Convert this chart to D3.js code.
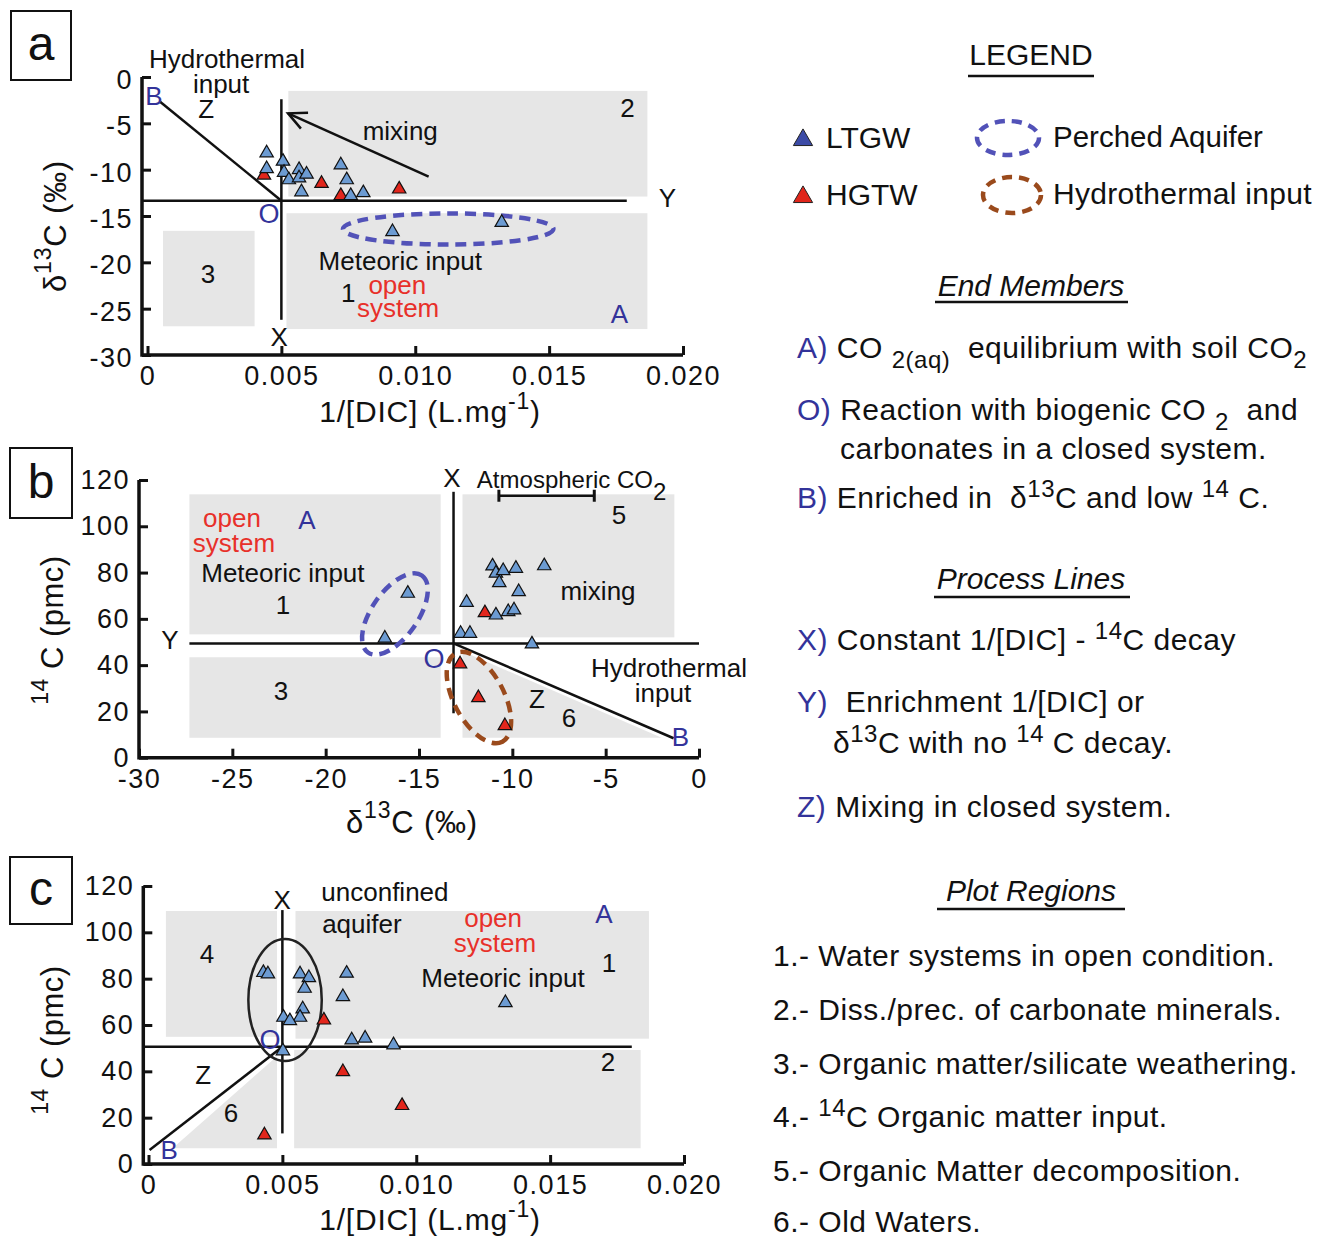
<!DOCTYPE html>
<html><head><meta charset="utf-8">
<script src="https://cdn.jsdelivr.net/npm/d3@7"></script>
<style>
body{margin:0;background:#fff}
svg text{font-family:"Liberation Sans",Arial,Helvetica,sans-serif;white-space:pre;fill:#111}
</style></head><body>
<svg id="chart" width="1325" height="1237"></svg>
<script>
// ================= DATA =================
const dicTicks = [0, 0.005, 0.010, 0.015, 0.020];
const dicTickLabels = ["0", "0.005", "0.010", "0.015", "0.020"];
const d13cTicksA = [0, -5, -10, -15, -20, -25, -30];
const c14Ticks = [0, 20, 40, 60, 80, 100, 120];
const d13cTicksB = [-30, -25, -20, -15, -10, -5, 0];

// Panel a: [1/[DIC], δ13C]
const aLTGW = [[0.00445,-8.2],[0.00445,-9.9],[0.00506,-9.1],[0.0051,-10.3],[0.00528,-11.1],[0.00566,-10.0],[0.00566,-10.9],[0.00594,-10.5],[0.00575,-12.4],[0.00722,-9.5],[0.00744,-11.1],[0.00759,-12.8],[0.00806,-12.5],[0.00915,-16.7],[0.01323,-15.7]];
const aHGTW = [[0.00435,-10.6],[0.0065,-11.5],[0.00722,-12.8],[0.0094,-12.1]];
// Panel b: [δ13C, 14C]
const bLTGW = [[-11.06,82.8],[-10.88,79.7],[-10.49,80.8],[-9.81,81.8],[-10.70,75.6],[-8.29,82.9],[-9.66,71.7],[-12.45,67.1],[-10.88,61.6],[-10.22,63.1],[-9.91,63.8],[-12.77,53.7],[-12.27,53.7],[-8.95,49.1],[-15.60,71.0],[-16.83,51.6]];
const bHGTW = [[-11.47,62.6],[-12.80,40.5],[-11.82,25.9],[-10.40,13.8]];
// Panel c: [1/[DIC], 14C]
const cLTGW = [[0.00429,82.6],[0.00446,82.0],[0.00566,82.0],[0.00599,80.4],[0.00583,75.8],[0.00740,82.3],[0.00726,72.2],[0.00576,66.9],[0.00566,63.3],[0.00504,63.3],[0.00528,61.8],[0.00759,53.5],[0.00809,54.3],[0.00915,51.4],[0.00502,48.8],[0.01333,69.6]];
const cHGTW = [[0.00655,62.1],[0.00726,39.8],[0.00947,25.2],[0.00433,12.5]];

// Plot regions (data units): [x0, x1, y0, y1]
const aBoxes = [[0.00526,0.01867,-1.5,-12.9],[0.00519,0.01867,-14.7,-27.2],[0.00058,0.0040,-16.6,-26.9]];
const bBoxes = [[-27.3,-13.84,113.8,53.3],[-27.3,-13.84,43.4,8.6],[-12.67,-1.32,113.8,52.0]];
const bRegion6 = [[-12.67,46],[-12.67,8.6],[-2.0,8.6]];
const cBoxes = [[0.00065,0.0048,109.2,54.9],[0.00549,0.01869,109.2,54.1],[0.00544,0.01838,49.2,6.8]];
const cRegion6 = [[0.0048,46.5],[0.0048,6.8],[0.0009,6.8]];

// Process lines (data units)
const aLineX = [[0.005,-2.4],[0.005,-26.2]];
const aLineY = [[-0.0002,-13.35],[0.0179,-13.35]];
const aLineZ = [[0.00047,-2.67],[0.005,-13.35]];
const aMixArrow = [[0.0105,-10.76],[0.00525,-3.92]];
const bLineX = [[-13.15,114.9],[-13.15,19.2]];
const bLineY = [[-27.3,49.4],[0,49.4]];
const bLineZ = [[-13.15,49.4],[-1.36,8.4]];
const bAtmBar = [[-10.72,113.2],[-5.61,113.2]];
const cLineX = [[0.005,109.6],[0.005,13.2]];
const cLineY = [[-0.0002,50.6],[0.01805,50.6]];
const cLineZ = [[0.00004,6.0],[0.005,50.6]];

// ================= DRAW =================
const svg = d3.select("#chart");
const BLUE_T = "#6c9bd2", RED_T = "#e2261c", GRAY = "#e6e6e6";
const BLUE_TXT = "#33339a", RED_TXT = "#e8302a";
const PERCH = "#5252b8", HYDRO = "#9a4a1c";
const tri = d3.symbol(d3.symbolTriangle).size(78);
const line = d3.line();

function txt(g, x, y, s, o = {}) {
  const t = g.append("text").attr("x", x).attr("y", y)
    .attr("text-anchor", o.anchor || "middle")
    .attr("dominant-baseline", o.base || "central")
    .style("font-size", (o.size || 26) + "px");
  if (o.color) t.style("fill", o.color);
  if (o.italic) t.style("font-style", "italic");
  if (o.ls) t.style("letter-spacing", o.ls + "px");
  t.text(s);
  return t;
}

function panel(cfg) {
  const g = svg.append("g");
  const x = cfg.x, y = cfg.y;
  const P = (d) => [x(d[0]), y(d[1])];
  g.selectAll(null).data(cfg.boxes).join("rect")
    .attr("x", d => x(d[0])).attr("y", d => y(d[2]))
    .attr("width", d => x(d[1]) - x(d[0])).attr("height", d => y(d[3]) - y(d[2]))
    .attr("fill", GRAY);
  if (cfg.region6) g.append("path").attr("d", line(cfg.region6.map(P)) + "Z").attr("fill", GRAY);
  const xa = g.append("g").attr("transform", `translate(0,${cfg.axisY})`)
    .call(d3.axisBottom(x).tickValues(cfg.xTicks).tickFormat((d, i) => cfg.xLabels ? cfg.xLabels[i] : String(d))
      .tickSize(-9).tickSizeOuter(0).tickPadding(11));
  const ya = g.append("g").attr("transform", `translate(${cfg.axisX},0)`)
    .call(d3.axisLeft(y).tickValues(cfg.yTicks).tickFormat(d => String(d))
      .tickSize(-9).tickSizeOuter(0).tickPadding(9));
  [xa, ya].forEach(a => {
    a.select(".domain").remove();
    a.selectAll(".tick line").attr("stroke", "#111").attr("stroke-width", 3);
    a.selectAll(".tick text").style("font-size", "27px").style("letter-spacing", "1.5px").style("fill", "#111").attr("font-family", null);
  });
  ya.selectAll(".tick line").attr("x1", 0).attr("x2", 9);
  ya.selectAll(".tick text").attr("dy", cfg.yDy || "0.32em");
  g.append("path").attr("d", line([[cfg.axisX, y.range()[1]], [cfg.axisX, cfg.axisY], [x.range()[1], cfg.axisY]]))
    .attr("fill", "none").attr("stroke", "#111").attr("stroke-width", 3.5);
  cfg.lines.forEach(l => g.append("path").attr("d", line(l.map(P))).attr("fill", "none").attr("stroke", "#111").attr("stroke-width", 2.5));
  return { g, P };
}

// ---------- Panel a ----------
{
  const x = d3.scaleLinear([0, 0.02], [147.5, 683]);
  const y = d3.scaleLinear([-30, 0], [355, 77]);
  const { g, P } = panel({ x, y, axisX: 142, axisY: 355, yDy: "0.42em", boxes: aBoxes, xTicks: dicTicks, xLabels: dicTickLabels, yTicks: d13cTicksA, lines: [aLineX, aLineY, aLineZ, aMixArrow] });
  const [a0, a1] = aMixArrow.map(P);
  const ang = Math.atan2(a1[1] - a0[1], a1[0] - a0[0]);
  const hl = 20, hw = 0.45;
  g.append("path").attr("d", line([[a1[0] - hl * Math.cos(ang - hw), a1[1] - hl * Math.sin(ang - hw)], a1, [a1[0] - hl * Math.cos(ang + hw), a1[1] - hl * Math.sin(ang + hw)]]))
    .attr("fill", "none").attr("stroke", "#111").attr("stroke-width", 2.5);
  g.append("ellipse").attr("cx", x(0.01123)).attr("cy", y(-16.4)).attr("rx", x(0.01123 + 0.00393) - x(0.01123)).attr("ry", y(-16.4 - 1.68) - y(-16.4))
    .attr("fill", "none").attr("stroke", PERCH).attr("stroke-width", 4.5).attr("stroke-dasharray", "11 7");
  g.selectAll(null).data(aHGTW).join("path").attr("d", tri).attr("transform", d => `translate(${P(d)})`).attr("fill", RED_T).attr("stroke", "#111").attr("stroke-width", 1.2);
  g.selectAll(null).data(aLTGW).join("path").attr("d", tri).attr("transform", d => `translate(${P(d)})`).attr("fill", BLUE_T).attr("stroke", "#111").attr("stroke-width", 1.2);
  const L = (d, s, o) => txt(g, x(d[0]), y(d[1]), s, o);
  L([0.00297, 1.94], "Hydrothermal"); L([0.00275, -0.76], "input");
  L([0.00219, -3.45], "Z"); L([0.00024, -2.05], "B", { color: BLUE_TXT }); L([0.00454, -14.78], "O", { color: BLUE_TXT, size: 27 });
  L([0.00492, -28.06], "X"); L([0.01942, -13.06], "Y"); L([0.00944, -5.83], "mixing");
  L([0.01793, -3.35], "2"); L([0.00226, -21.26], "3"); L([0.00944, -19.86], "Meteoric input");
  L([0.0075, -23.31], "1"); L([0.00933, -22.4], "open", { color: RED_TXT }); L([0.00936, -24.95], "system", { color: RED_TXT });
  L([0.01763, -25.57], "A", { color: BLUE_TXT });
}

// ---------- Panel b ----------
{
  const x = d3.scaleLinear([-30, 0], [139, 699]);
  const y = d3.scaleLinear([0, 120], [757.7, 480]);
  const { g, P } = panel({ x, y, axisX: 139, axisY: 757.7, boxes: bBoxes, region6: bRegion6, xTicks: d13cTicksB, yTicks: c14Ticks, lines: [bLineX, bLineY, bLineZ, bAtmBar] });
  const [b0, b1] = bAtmBar.map(P);
  [b0, b1].forEach(p => g.append("path").attr("d", line([[p[0], p[1] - 6], [p[0], p[1] + 6]])).attr("stroke", "#111").attr("stroke-width", 3));
  g.append("ellipse").attr("transform", `translate(${P([-16.29, 62.1])}) rotate(-55)`).attr("rx", 47).attr("ry", 23)
    .attr("fill", "none").attr("stroke", PERCH).attr("stroke-width", 4.5).attr("stroke-dasharray", "11 7");
  g.append("ellipse").attr("transform", `translate(${P([-11.79, 26.0])}) rotate(62)`).attr("rx", 50).attr("ry", 25)
    .attr("fill", "none").attr("stroke", HYDRO).attr("stroke-width", 4.5).attr("stroke-dasharray", "11 7");
  g.selectAll(null).data(bHGTW).join("path").attr("d", tri).attr("transform", d => `translate(${P(d)})`).attr("fill", RED_T).attr("stroke", "#111").attr("stroke-width", 1.2);
  g.selectAll(null).data(bLTGW).join("path").attr("d", tri).attr("transform", d => `translate(${P(d)})`).attr("fill", BLUE_T).attr("stroke", "#111").attr("stroke-width", 1.2);
  const L = (d, s, o) => txt(g, x(d[0]), y(d[1]), s, o);
  L([-13.24, 120.8], "X");
  const at = txt(g, x(-11.9), y(120.3), "Atmospheric CO", { anchor: "start", size: 24 });
  at.append("tspan").attr("dy", 12).text("2");
  L([-4.29, 104.8], "5"); L([-5.41, 72.0], "mixing");
  L([-25.02, 103.6], "open", { color: RED_TXT }); L([-24.91, 92.7], "system", { color: RED_TXT });
  L([-21.0, 102.7], "A", { color: BLUE_TXT }); L([-22.29, 79.8], "Meteoric input"); L([-22.29, 66.0], "1");
  L([-28.34, 50.8], "Y"); L([-22.39, 28.8], "3"); L([-14.2, 42.6], "O", { color: BLUE_TXT, size: 27 });
  L([-1.61, 38.8], "Hydrothermal"); L([-1.93, 28.0], "input"); L([-8.68, 25.4], "Z"); L([-6.97, 17.1], "6");
  L([-0.99, 8.9], "B", { color: BLUE_TXT });
}

// ---------- Panel c ----------
{
  const x = d3.scaleLinear([0, 0.02], [148.5, 684]);
  const y = d3.scaleLinear([0, 120], [1164, 886]);
  const { g, P } = panel({ x, y, axisX: 143.3, axisY: 1164, boxes: cBoxes, region6: cRegion6, xTicks: dicTicks, xLabels: dicTickLabels, yTicks: c14Ticks, lines: [cLineX, cLineY, cLineZ] });
  g.append("ellipse").attr("cx", x(0.0051)).attr("cy", y(70.8)).attr("rx", 36.7).attr("ry", 61)
    .attr("fill", "none").attr("stroke", "#222").attr("stroke-width", 2.5);
  g.selectAll(null).data(cHGTW).join("path").attr("d", tri).attr("transform", d => `translate(${P(d)})`).attr("fill", RED_T).attr("stroke", "#111").attr("stroke-width", 1.2);
  g.selectAll(null).data(cLTGW).join("path").attr("d", tri).attr("transform", d => `translate(${P(d)})`).attr("fill", BLUE_T).attr("stroke", "#111").attr("stroke-width", 1.2);
  const L = (d, s, o) => txt(g, x(d[0]), y(d[1]), s, o);
  L([0.00499, 113.9], "X"); L([0.00883, 117.4], "unconfined"); L([0.00797, 103.6], "aquifer");
  L([0.01287, 106.0], "open", { color: RED_TXT }); L([0.01294, 95.2], "system", { color: RED_TXT });
  L([0.01701, 107.9], "A", { color: BLUE_TXT }); L([0.0172, 86.8], "1"); L([0.01324, 80.3], "Meteoric input");
  L([0.00218, 90.6], "4"); L([0.01716, 44.0], "2"); L([0.00204, 38.4], "Z"); L([0.00308, 22.0], "6");
  L([0.00077, 6.0], "B", { color: BLUE_TXT }); L([0.00454, 53.5], "O", { color: BLUE_TXT, size: 27 });
}

// ---------- panel letters & axis titles ----------
[["a", 11, 11, 60, 69], ["b", 10, 448, 62, 70], ["c", 10, 857, 62, 67]].forEach(([s, x0, y0, w, h]) => {
  svg.append("rect").attr("x", x0).attr("y", y0).attr("width", w).attr("height", h).attr("fill", "none").attr("stroke", "#111").attr("stroke-width", 2);
  txt(svg, x0 + w / 2, y0 + h / 2 - 2, s, { size: 48 });
});
function dicTitle(cx, cy) {
  const t = txt(svg, cx, cy, "1/[DIC] (L.mg", { size: 30, ls: 0.8 });
  t.append("tspan").attr("dy", -10).style("font-size", "23px").text("-1");
  t.append("tspan").attr("dy", 10).text(")");
}
dicTitle(430, 411); dicTitle(430, 1219);
function d13Title(cx, cy, rot) {
  const t = txt(svg, cx, cy, "δ", { size: 31, ls: 0.8 });
  if (rot) t.attr("transform", `rotate(-90,${cx},${cy})`);
  t.append("tspan").attr("dy", -12).style("font-size", "23px").text("13");
  t.append("tspan").attr("dy", 12).text("C (‰)");
}
d13Title(55, 226, true); d13Title(412, 822, false);
function c14Title(cx, cy) {
  const t = txt(svg, cx, cy, "", { size: 31, ls: 0.5 }).attr("transform", `rotate(-90,${cx},${cy})`);
  t.append("tspan").attr("dy", -12).style("font-size", "23px").text("14");
  t.append("tspan").attr("dy", 12).text(" C (pmc)");
}
c14Title(52, 630); c14Title(52, 1040);

// ---------- Legend ----------
const LG = svg.append("g");
function header(cx, cy, s, italic, x0, x1, uy) {
  txt(LG, cx, cy, s, { size: 30, italic });
  LG.append("path").attr("d", line([[x0, uy], [x1, uy]])).attr("stroke", "#111").attr("stroke-width", 2.5);
}
header(1031, 54, "LEGEND", false, 968, 1094, 76);
const ltri = d3.symbol(d3.symbolTriangle).size(160);
LG.append("path").attr("d", ltri).attr("transform", "translate(803,140)").attr("fill", "#3c4ba6").attr("stroke", "#222").attr("stroke-width", 1);
LG.append("path").attr("d", ltri).attr("transform", "translate(803,197)").attr("fill", "#e0261b").attr("stroke", "#222").attr("stroke-width", 1);
txt(LG, 826, 137, "LTGW", { anchor: "start", size: 30 });
txt(LG, 826, 194, "HGTW", { anchor: "start", size: 30 });
LG.append("ellipse").attr("cx", 1008).attr("cy", 138).attr("rx", 31).attr("ry", 17).attr("fill", "none").attr("stroke", PERCH).attr("stroke-width", 4.5).attr("stroke-dasharray", "10 7");
LG.append("ellipse").attr("cx", 1012).attr("cy", 195).attr("rx", 29).attr("ry", 18).attr("fill", "none").attr("stroke", HYDRO).attr("stroke-width", 4.5).attr("stroke-dasharray", "10 7");
txt(LG, 1053, 136, "Perched Aquifer", { anchor: "start", size: 29.5 });
txt(LG, 1053, 193, "Hydrothermal input", { anchor: "start", size: 30, ls: 0.3 });

header(1031, 285, "End Members", true, 935, 1128, 302);
header(1031, 578, "Process Lines", true, 934, 1130, 597);
header(1031, 890, "Plot Regions", true, 937, 1125, 909);

function item(key, x0, base, parts) {
  const t = LG.append("text").attr("x", x0).attr("y", base).style("font-size", "30px").style("letter-spacing", "0.5px");
  if (key) { t.append("tspan").style("fill", BLUE_TXT).text(key); }
  parts.forEach(p => {
    const s = t.append("tspan").text(p[0]);
    if (p[1] === "sub") s.attr("dy", 10).style("font-size", "24px");
    else if (p[1] === "sup") s.attr("dy", -11).style("font-size", "24px");
    else if (p[1] === "back") s.attr("dy", p[2]);
  });
  return t;
}
item("A) ", 797, 358, [["CO "], ["2(aq)", "sub"], ["  equilibrium with soil CO", "back", -10], ["2", "sub"]]);
item("O) ", 797, 420, [["Reaction with biogenic CO "], ["2", "sub"], ["  and", "back", -10]]);
item("", 840, 459, [["carbonates in a closed system."]]);
item("B) ", 797, 508, [["Enriched in  δ"], ["13", "sup"], ["C and low ", "back", 11], ["14", "sup"], [" C.", "back", 11]]);
item("X) ", 797, 650, [["Constant 1/[DIC] - "], ["14", "sup"], ["C decay", "back", 11]]);
item("Y) ", 797, 712, [[" Enrichment 1/[DIC] or"]]);
item("", 833, 753, [["δ"], ["13", "sup"], ["C with no ", "back", 11], ["14", "sup"], [" C decay.", "back", 11]]);
item("Z) ", 797, 817, [["Mixing in closed system."]]);
item("", 773, 966, [["1.- Water systems in open condition."]]);
item("", 773, 1020, [["2.- Diss./prec. of carbonate minerals."]]);
item("", 773, 1074, [["3.- Organic matter/silicate weathering."]]);
item("", 773, 1127, [["4.- "], ["14", "sup"], ["C Organic matter input.", "back", 11]]);
item("", 773, 1181, [["5.- Organic Matter decomposition."]]);
item("", 773, 1232, [["6.- Old Waters."]]);
</script>
</body></html>
